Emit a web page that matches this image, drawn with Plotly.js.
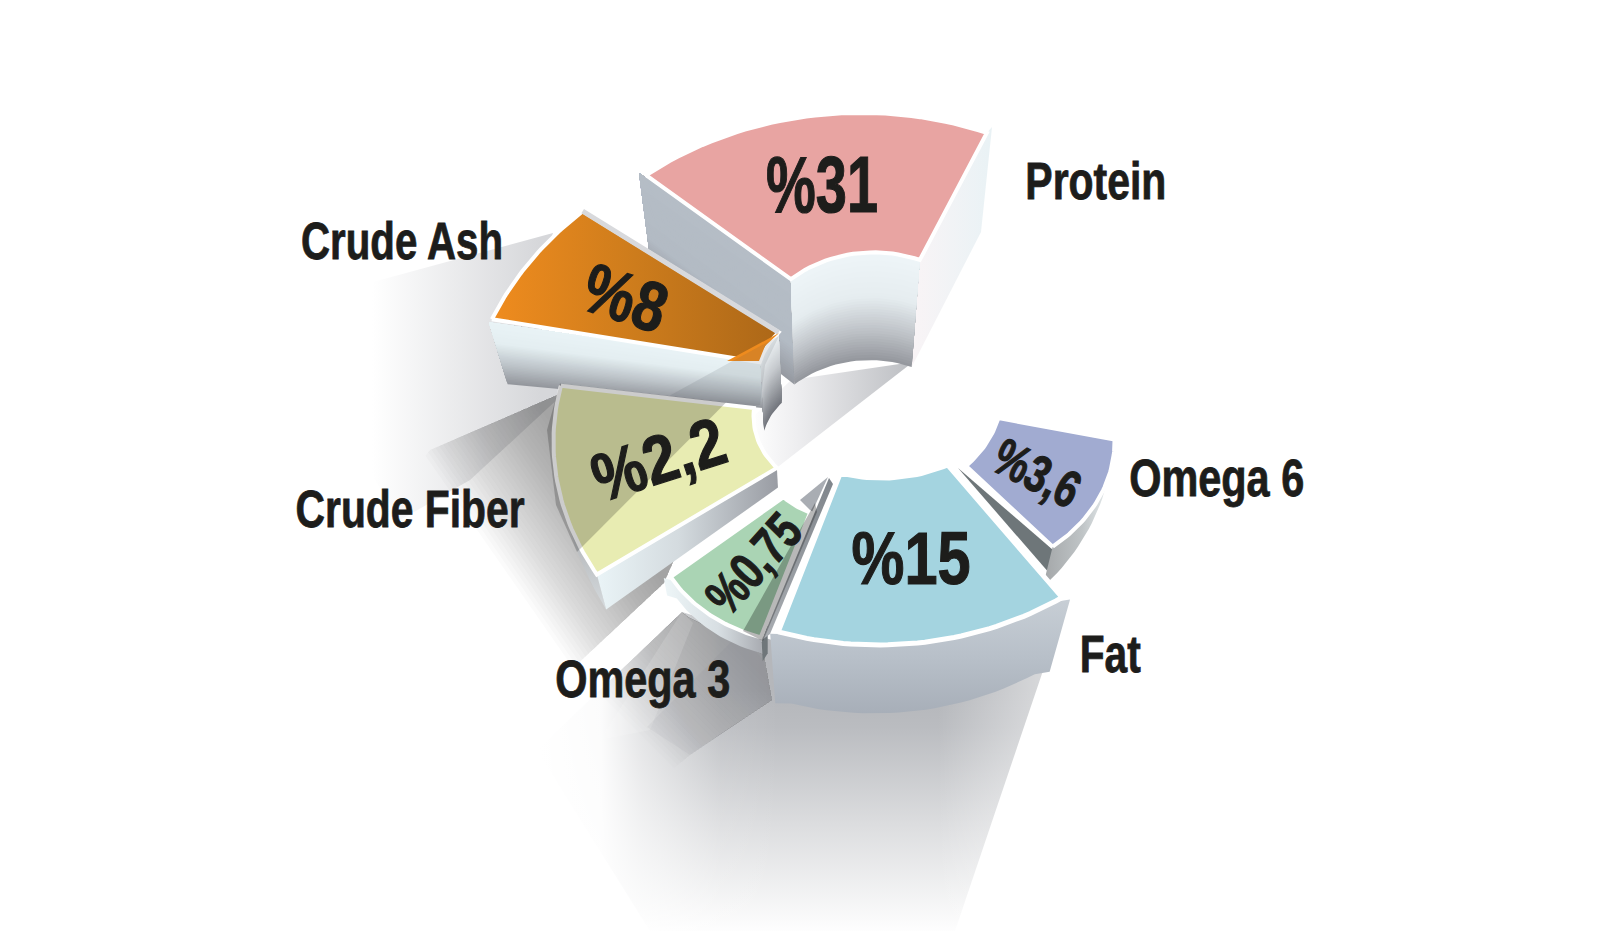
<!DOCTYPE html>
<html>
<head>
<meta charset="utf-8">
<script src="https://cdn.plot.ly/plotly-3.0.1.min.js"></script>
<style>html,body{margin:0;padding:0;background:#fff}#chart{width:1600px;height:931px}</style>
</head>
<body>
<div id="chart"></div>
<script>
// ---- chart data ----
const categories = ['Protein', 'Crude Ash', 'Crude Fiber', 'Omega 3', 'Fat', 'Omega 6'];
const values = [31, 8, 2.2, 0.75, 15, 3.6];

// ---- wedge geometry of the drawing (polar, per slice; the slices are not to scale in the picture) ----
const centreX = [877, 851, 858, 829, 876, 894];
const centreY = [341, 377, 420, 465, 382, 399];
const angleStart = [138.8, 168.9, 172, 220.8, 252.2, 311.4];
const angleEnd = [66.6, 143, 215.8, 252, 305.3, 347.4];
const outerR = [[307, 282, 276.5], [366, 350, 336], [300, 310, 322], [209, 218, 221], [320, 321, 322], [240, 238, 226]];
const innerR = [[114.5, 109, 107.7], [93, 92, 90.6], [105, 103, 100], [60, 60, 61], [117, 118, 124], [109, 107, 107]];
const depthOut = [0.09, 0.055, 0.04, 0.02, 0.085, 0.045];
const depthIn = [0.09, 0.06, 0.02, 0.01, 0.085, 0.02];
const faceColors = ['#e8a4a2', '#ee8b1e', '#e8ecb2', '#aad4b4', '#a4d4e0', '#a1abd1'];

// ---- text placement ----
const labelX = [1096, 402, 410, 642, 1110, 1216];
const labelY = [181, 241, 509, 679, 654, 478];
const labelWidth = [141, 202, 229, 175, 61, 175];
const valueX = [822, 625, 658, 753, 911, 1037];
const valueY = [184, 298, 459, 564, 558, 473];
const valueAngle = [0, 18, -18, -48, 0, 27];
const valueSize = [80, 70, 68, 52, 74, 52];
const valueWidth = [112, 84, 136, 114, 119, 90];

const SQUASH = 0.82, VP = [830, 1450];
const traces = [];

function poly(pts, o) {
  o = o || {};
  const xs = pts.map(p => p[0]), ys = pts.map(p => p[1]);
  const t = {
    type: 'scatter', mode: 'lines', x: xs.concat([xs[0]]), y: ys.concat([ys[0]]),
    fill: 'toself', hoverinfo: 'skip', showlegend: false,
    line: o.stroke ? {color: o.stroke, width: o.width || 4} : {width: 0, color: 'rgba(0,0,0,0)'},
    fillcolor: o.color || 'rgba(0,0,0,0)'
  };
  if (o.grad) {
    const arr = o.grad.type === 'vertical' ? ys : xs;
    t.fillgradient = {
      type: o.grad.type, colorscale: o.grad.stops,
      start: o.grad.start !== undefined ? o.grad.start : Math.min.apply(null, arr),
      stop: o.grad.stop !== undefined ? o.grad.stop : Math.max.apply(null, arr)
    };
  }
  traces.push(t);
}
function vgrad(stops, start, stop) { return {type: 'vertical', stops, start, stop}; }
function hgrad(stops, start, stop) { return {type: 'horizontal', stops, start, stop}; }

function lerp(a, b, t) { return [a[0] + (b[0] - a[0]) * t, a[1] + (b[1] - a[1]) * t]; }
function rAt(r, t) { // quadratic through start, mid, end radius
  return r[0] * (1 - t) * (1 - 2 * t) + 4 * r[1] * t * (1 - t) + r[2] * t * (2 * t - 1);
}
function proj(i, deg, r) {
  const a = deg * Math.PI / 180;
  return [centreX[i] + r * Math.cos(a), centreY[i] - SQUASH * r * Math.sin(a)];
}
function arc(i, radii, n) {
  const out = [];
  for (let k = 0; k <= n; k++) {
    const t = k / n;
    out.push(proj(i, angleStart[i] + (angleEnd[i] - angleStart[i]) * t, rAt(radii, t)));
  }
  return out;
}
function drop(p, f) { return lerp(p, VP, f); }
function hexRgb(h) { return [1, 3, 5].map(k => parseInt(h.substr(k, 2), 16)); }
function stopColor(stops, t) {
  for (let k = 1; k < stops.length; k++) {
    if (t <= stops[k][0]) {
      const u = (t - stops[k - 1][0]) / (stops[k][0] - stops[k - 1][0]);
      const a = hexRgb(stops[k - 1][1]), b = hexRgb(stops[k][1]);
      return 'rgb(' + a.map((v, m) => Math.round(v + (b[m] - v) * u)).join(',') + ')';
    }
  }
  return stops[stops.length - 1][1];
}
// wall painted as nested layers from its lower edge upward, so the shading follows the top edge
function wall(top, bot, stops) {
  const n = 40;
  for (let k = n; k >= 1; k--) {
    const t = k / n;
    poly(top.concat(top.map((p, m) => lerp(p, bot[m], t)).reverse()), {color: stopColor(stops, t)});
  }
}
function clip(pts, d, lim) {
  const f = p => p[0] * d[0] + p[1] * d[1] - lim, out = [];
  for (let k = 0; k < pts.length; k++) {
    const a = pts[k], b = pts[(k + 1) % pts.length], fa = f(a), fb = f(b);
    if (fa <= 0) out.push(a);
    if ((fa < 0 && fb > 0) || (fa > 0 && fb < 0)) out.push(lerp(a, b, fa / (fa - fb)));
  }
  return out;
}
// diagonal fade, built up from nested translucent regions
function diagonal(pts, d, pLight, pDark, rgb, alpha, n) {
  for (let k = 0; k < n; k++) {
    const t = (k + 1) / n, lim = pLight + (pDark - pLight) * t;
    const q = clip(pts, d, lim);
    if (q.length > 2) poly(q, {color: 'rgba(' + rgb.join(',') + ',' + alpha + ')'});
  }
}
function faceOf(i) {
  const o = arc(i, outerR[i], 40), n = arc(i, innerR[i], 24).reverse();
  return o.concat(n);
}

// ---- floor shadows ----
poly([[553, 233], [373, 282], [350, 440], [400, 520], [470, 480], [562, 395], [530, 300]],
  {grad: hgrad([[0, '#ffffff'], [1, '#d6d7da']], 372, 540)});
diagonal([[562, 393], [430, 450], [390, 500], [553, 687], [664, 583], [700, 500], [610, 400]],
  [-0.82, 0.57], -85, -210, [110, 113, 122], 0.027, 30);

const fatShadow = [[1050, 650], [955, 931], [650, 931], [537, 750], [682, 612], [772, 640], [1000, 640]];
const fatFade = [[1053, 650], [958, 933], [645, 933], [531, 750], [680, 608], [772, 636], [1000, 636]];
poly(fatShadow, {grad: vgrad([[0, '#b4b6ba'], [0.15, '#babcc0'], [0.55, '#dcdddf'], [1, '#ffffff']], 690, 935)});
poly(fatFade, {grad: hgrad([[0, 'rgba(255,255,255,1)'], [0.12, 'rgba(255,255,255,0.95)'], [0.2, 'rgba(255,255,255,0.6)'], [0.353, 'rgba(255,255,255,0.1)'], [0.47, 'rgba(255,255,255,0)'], [0.78, 'rgba(255,255,255,0)'], [1, 'rgba(255,255,255,0.5)']], 540, 1050)});
diagonal([[682, 612], [537, 750], [600, 830], [690, 755], [772, 700], [764, 655], [690, 618]],
  [-0.7, 0.7], 70, -60, [135, 138, 145], 0.016, 30);
poly([[682, 612], [693, 623], [650, 730], [600, 740]], {color: 'rgba(255,255,255,0.14)'});
poly([[740, 633], [764, 661], [772, 700], [690, 755], [647, 727]], {color: 'rgba(100,105,115,0.06)'});
poly([[913, 362], [791, 380], [755, 415], [752, 472], [770, 473]],
  {grad: hgrad([[0, '#ffffff'], [0.3, '#eeeef0'], [1, '#bfc1c5']], 750, 905)});

// ---- Protein ----
(function () {
  const i = 0, A = arc(i, innerR[i], 24), Ab = A.map(p => drop(p, depthIn[i]));
  const cornerL = A[0], cornerR = A[A.length - 1];
  const outR = proj(i, angleEnd[i], outerR[i][2]);
  poly([outR, [992, 127], [981, 232], drop(cornerR, depthIn[i]), cornerR],
    {grad: hgrad([[0, '#f9f4f6'], [1, '#e9f2f5']])});
  wall([[639, 173], cornerL], [[652, 273], drop(cornerL, depthIn[i])],
    [[0, '#b5bdc6'], [0.65, '#b3bbc4'], [1, '#969aa1']]);
  wall(A, Ab, [[0, '#eef5f8'], [0.42, '#e6edf0'], [0.75, '#bcc0c5'], [1, '#95989e']]);
  poly(faceOf(i), {color: faceColors[i], stroke: '#ffffff', width: 4});
})();

// ---- Crude Ash ----
(function () {
  const i = 1, I = arc(i, innerR[i], 12);
  const o0 = proj(i, angleStart[i], outerR[i][0]), n0 = I[0];
  wall(I, I.map(p => drop(p, depthIn[i] * 1.05)), [[0, '#f1f6f8'], [0.45, '#c6cace'], [1, '#74777e']]);
  const left = [o0[0] - 3, o0[1] + 3];
  wall([left, n0], [drop(left, depthOut[i]), drop(n0, depthIn[i] * 0.7)],
    [[0, '#e9f3f6'], [0.35, '#e4eef1'], [0.7, '#bcc3c8'], [1, '#94979d']]);
  poly(faceOf(i), {grad: hgrad([[0, '#ee8b1e'], [0.5, '#cd7c1c'], [1, '#ad6818']], 496, 775), stroke: '#ffffff', width: 4});
  const top0 = proj(i, angleEnd[i], outerR[i][2]), top1 = proj(i, angleEnd[i], innerR[i][2]);
  traces.push({type: 'scatter', mode: 'lines', x: [top0[0], top1[0]], y: [top0[1], top1[1]],
    line: {color: '#d8d9dc', width: 5}, hoverinfo: 'skip', showlegend: false});
  poly([[779, 333], [727, 361], [759, 361], [765, 346]], {color: '#ee8b1e'});
  poly([[727, 364], [779, 336], [765, 365], [760, 405], [640, 412]], {color: 'rgba(70,75,85,0.13)'});
})();

// ---- Crude Fiber ----
(function () {
  const i = 2, O = arc(i, outerR[i], 20);
  const OB = O.map((p, k) => drop(p, depthOut[i] * k / 20));
  poly(O.concat(OB.slice().reverse()), {grad: vgrad([[0, '#7f8288'], [0.7, '#b7babd'], [1, '#d5dadd']])});
  const o1 = O[O.length - 1], n1 = proj(i, angleEnd[i], innerR[i][2]);
  poly([o1, n1, drop(n1, depthIn[i]), drop(o1, depthOut[i])],
    {grad: hgrad([[0, '#eaf4f7'], [0.45, '#d4dbdf'], [1, '#999ca3']])});
  poly(faceOf(i), {color: faceColors[i], stroke: '#ffffff', width: 4});
  poly([[560, 383.5], [726, 402.5], [577, 552], [556, 505], [547, 430]], {color: 'rgba(0,0,0,0.2)'});
})();

// ---- Omega 6 ----
(function () {
  const i = 5, O = arc(i, outerR[i], 24);
  const OB = O.map((p, k) => drop(p, depthOut[i] * (1 - k / 24 * 0.85)));
  poly([[958, 468], [1053, 550], [1050, 574]], {color: '#6e7679'});
  poly(O.concat(OB.slice().reverse()), {grad: hgrad([[0, '#a3a6a8'], [0.55, '#bfc4c6'], [1, '#eef4f6']])});
  poly(faceOf(i), {color: faceColors[i], stroke: '#ffffff', width: 4});
})();

// ---- Fat ----
(function () {
  const i = 4, O = arc(i, outerR[i], 30);
  const ext = O.map(p => p);
  ext[0] = [O[0][0] - 8, O[0][1] + 2];
  ext[30] = [O[30][0] + 8, O[30][1] + 2];
  poly(ext.concat(ext.map(p => drop(p, depthOut[i])).reverse()),
    {grad: vgrad([[0, '#c7ced5'], [0.45, '#b8c0c9'], [1, '#a4abb5']], 600, 725)});
  poly([[800, 500], [828, 477], [812, 512]], {color: '#a9adb3'});
  poly(faceOf(i), {color: faceColors[i], stroke: '#ffffff', width: 5});
})();

// ---- Omega 3 ----
(function () {
  const i = 3, O = arc(i, outerR[i], 20);
  const top = [[O[0][0] - 7, O[0][1] + 1]].concat(O.slice(1));
  const bot = top.map(p => drop(p, depthOut[i]));
  poly(top.concat(bot.slice().reverse()), {grad: hgrad([[0, '#eef6f8'], [0.55, '#d8dfe3'], [1, '#a9acb2']])});
  const e = O[20];
  poly([[e[0] + 1, e[1] + 5], [e[0] + 7, e[1] - 12], [e[0] + 7, e[1] + 16], [e[0] + 2, e[1] + 24]], {color: '#6f767a'});
  poly([[829, 478], [833, 484], [770, 634], [762, 640]], {grad: vgrad([[0, '#7f858b'], [1, '#a9adb2']])});
  poly(faceOf(i), {color: faceColors[i], stroke: '#ffffff', width: 4});
  poly([[815, 503], [743, 631], [763, 641], [817, 512]], {color: 'rgba(0,0,0,0.28)'});
})();

// ---- text ----
const FONT = '"Liberation Sans",Arial,sans-serif';
const annotations = [], widths = [], strokes = [];
categories.forEach((c, k) => {
  annotations.push({x: labelX[k], y: labelY[k], xref: 'x', yref: 'y', showarrow: false, text: c,
    font: {family: FONT, size: 51, weight: 700, color: '#1d1d1b'}});
  widths.push(labelWidth[k]);
  strokes.push(0.8);
  annotations.push({x: valueX[k], y: valueY[k], xref: 'x', yref: 'y', showarrow: false, textangle: valueAngle[k],
    text: '%' + String(values[k]).replace('.', ','),
    font: {family: FONT, size: valueSize[k], weight: 700, color: '#1d1d1b'}});
  widths.push(valueWidth[k]);
  strokes.push(1.2);
});

// the reference lettering is condensed: squeeze each real text run to its measured width
function condense() {
  document.querySelectorAll('#chart .annotation').forEach(g => {
    const idx = +g.getAttribute('data-index');
    const t = g.querySelector('text.annotation-text');
    if (!t) return;
    t.setAttribute('textLength', widths[idx]);
    t.setAttribute('lengthAdjust', 'spacingAndGlyphs');
    t.style.stroke = '#1d1d1b';
    t.style.strokeWidth = strokes[idx] + 'px';
  });
}

Plotly.newPlot('chart', traces, {
  width: 1600, height: 931, margin: {l: 0, r: 0, t: 0, b: 0},
  paper_bgcolor: '#ffffff', plot_bgcolor: '#ffffff', showlegend: false, hovermode: false,
  xaxis: {range: [0, 1600], visible: false, fixedrange: true},
  yaxis: {range: [931, 0], visible: false, fixedrange: true},
  annotations
}, {displayModeBar: false, staticPlot: true}).then(condense);
</script>
</body>
</html>
